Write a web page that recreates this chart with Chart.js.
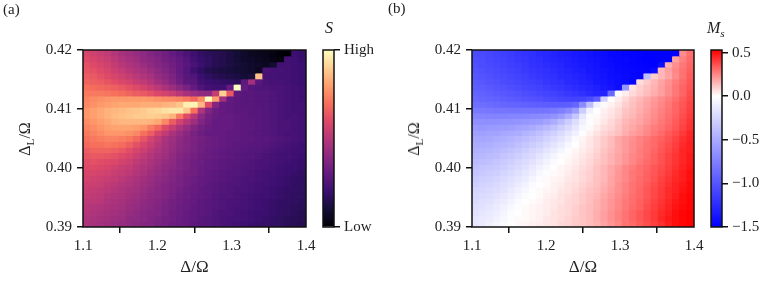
<!DOCTYPE html>
<html>
<head>
<meta charset="utf-8">
<script src="https://cdn.jsdelivr.net/npm/chart.js@4"></script>
<style>
  html, body { margin: 0; padding: 0; background: #fff; }
  #fig { position: relative; width: 765px; height: 288px; overflow: hidden; font-family: "Liberation Serif", serif; color: #222; }
  canvas { position: absolute; top: 0; }
  .lab { position: absolute; white-space: nowrap; line-height: 1; }
  .ylab { transform: translate(-50%, -50%) rotate(-90deg); font-size: 16px; }
  sub { font-size: 70%; line-height: 0; }
</style>
</head>
<body>
<div id="fig">
  <canvas id="heatS" style="left:0" width="322" height="288"></canvas>
  <canvas id="barS" style="left:312px" width="73" height="288"></canvas>
  <canvas id="heatM" style="left:389px" width="322" height="288"></canvas>
  <canvas id="barM" style="left:700px" width="65" height="288"></canvas>
  <div class="lab" style="left:3px;top:2px;font-size:15px">(a)</div>
  <div class="lab" style="left:388px;top:1px;font-size:15px">(b)</div>
  <div class="lab" style="left:325px;top:20px;font-size:16px;font-style:italic">S</div>
  <div class="lab" style="left:707px;top:20px;font-size:16px;font-style:italic">M<sub>s</sub></div>
  <div class="lab ylab" style="left:25px;top:139px">Δ<sub>L</sub>/Ω</div>
  <div class="lab ylab" style="left:414px;top:139px">Δ<sub>L</sub>/Ω</div>
</div>
<script>
// cell centres
const xCenters = [1.1048,1.1145,1.1242,1.1339,1.1435,1.1532,1.1629,1.1726,1.1823,1.1919,1.2016,1.2113,1.2210,1.2306,1.2403,1.2500,1.2597,1.2694,1.2790,1.2887,1.2984,1.3081,1.3177,1.3274,1.3371,1.3468,1.3565,1.3661,1.3758,1.3855,1.3952];
const yCenters = [.4195,.4185,.4176,.4166,.4156,.4147,.4137,.4127,.4118,.4108,.4098,.4089,.4079,.4069,.4060,.4050,.4040,.4031,.4021,.4011,.4002,.3992,.3982,.3973,.3963,.3953,.3944,.3934,.3924,.3915,.3905];
const yHalfCell = 0.000484;

const xTickLabels = ['1.1', '1.2', '1.3', '1.4'];
const yTickLabels = ['0.39', '0.40', '0.41', '0.42'];
const sBarLabels = ['Low', 'High'];

// S, percent of the colour range, top row first
const sRows = [
  [58,56,54,52,49,46,44,42,40,37,35,33,30,27,24,21,18,16,15,14,12,10,8,6,5,4,3,1,0,20,19],
  [60,58,56,54,51,48,46,44,41,39,37,34,32,29,26,22,19,17,15,14,12,10,8,7,6,5,3,2,22,21,19],
  [62,60,58,56,53,50,48,46,43,41,38,36,33,30,27,24,20,17,15,14,12,11,9,8,7,6,9,22,22,21,20],
  [63,62,60,58,55,53,50,48,46,43,40,37,34,30,26,21,17,14,13,12,11,10,9,8,6,24,23,23,22,21,20],
  [65,64,62,60,58,56,53,51,48,46,42,39,36,31,27,25,20,17,15,14,13,12,10,11,87,23,23,22,22,21,20],
  [67,66,65,63,61,59,57,54,52,49,45,42,38,33,28,27,22,20,19,18,17,16,28,45,27,24,23,23,22,21,20],
  [70,69,68,67,66,64,62,60,57,54,51,47,43,39,35,30,25,22,21,21,30,100,30,26,25,25,24,24,23,22,21],
  [72,72,72,71,70,69,67,65,64,62,59,57,54,50,46,43,41,40,53,90,64,29,27,27,26,26,25,24,23,22,21],
  [74,76,77,78,79,79,79,79,79,78,77,76,75,74,72,68,76,100,80,45,30,28,27,27,26,26,25,24,23,22,21],
  [75,77,79,80,81,82,82,82,83,83,83,84,85,88,97,98,85,60,38,30,29,28,27,27,26,26,25,24,23,22,22],
  [78,80,82,84,85,86,87,88,89,91,92,94,95,95,88,70,48,37,32,30,29,28,28,27,27,26,25,24,23,22,22],
  [78,80,82,84,86,87,88,89,89,90,89,88,84,72,60,50,40,34,31,30,30,29,28,27,27,26,25,24,23,23,22],
  [76,78,80,82,84,85,85,85,85,84,82,75,65,57,50,44,37,33,30,30,30,29,28,28,27,26,25,24,24,23,22],
  [74,76,78,80,81,81,81,80,78,73,68,60,54,48,43,38,34,31,30,30,30,29,28,28,27,26,25,24,24,23,22],
  [72,74,76,78,78,78,77,75,70,65,58,52,47,43,39,35,32,30,30,30,29,29,28,27,27,26,25,24,23,23,22],
  [70,72,73,74,74,73,71,68,63,57,52,47,44,41,38,36,34,32,31,30,29,29,28,28,27,27,26,25,24,23,22],
  [68,70,70,71,70,69,66,62,58,54,50,46,43,40,38,35,33,32,31,30,29,28,28,27,27,26,25,24,23,22,21],
  [65,67,67,67,66,64,61,58,55,51,48,45,42,39,37,35,33,31,30,29,28,28,27,26,26,25,24,23,22,21,21],
  [63,64,64,63,62,60,58,55,52,49,46,44,41,38,36,34,32,31,30,29,28,27,26,26,25,24,23,22,22,21,20],
  [61,62,61,60,59,57,55,52,50,47,45,42,40,37,35,33,32,30,29,28,27,27,26,25,24,24,23,22,21,20,19],
  [60,60,59,58,56,54,53,50,48,46,43,41,39,37,35,33,31,30,29,28,27,26,25,25,24,23,22,21,20,20,19],
  [58,58,57,56,54,53,51,49,47,44,42,40,38,36,34,33,31,29,28,27,26,26,25,24,23,22,22,21,20,19,18],
  [57,56,55,54,53,51,49,47,45,43,41,39,37,35,33,32,30,29,28,27,26,25,24,24,23,22,21,20,19,18,18],
  [55,55,54,52,51,49,48,46,44,42,40,38,36,35,33,31,30,28,27,26,25,25,24,23,22,22,21,20,19,18,17],
  [54,53,52,51,49,48,46,45,43,41,39,38,36,34,32,31,29,28,27,26,25,24,24,23,22,21,20,19,18,18,17],
  [53,52,51,49,48,47,45,44,42,40,39,37,35,33,32,30,29,28,26,25,25,24,23,22,21,21,20,19,18,17,17],
  [51,51,50,48,47,46,44,43,41,39,38,36,34,33,31,30,28,27,26,25,24,24,23,22,21,20,19,18,18,17,16],
  [50,49,48,47,46,45,43,42,40,39,37,35,34,32,31,29,28,27,26,25,24,23,23,22,21,20,19,18,17,16,16],
  [49,48,47,46,45,44,42,41,39,38,37,35,33,32,30,29,28,27,25,24,24,23,22,21,20,20,19,18,17,16,15],
  [48,47,46,45,44,43,41,40,39,37,36,34,33,31,30,29,27,26,25,24,23,23,22,21,20,19,18,17,16,15,15],
  [48,46,45,44,43,42,41,39,38,37,35,34,32,31,30,28,27,26,25,24,23,22,21,20,19,19,18,17,16,15,14]
];

// M_s in hundredths, top row first
const mRows = [
  [-105,-107,-109,-111,-113,-115,-118,-120,-122,-125,-127,-129,-131,-133,-135,-137,-139,-141,-143,-145,-146,-147,-148,-149,-150,-150,-150,-150,-150,24,30],
  [-104,-106,-108,-110,-112,-114,-117,-119,-121,-123,-126,-128,-130,-132,-134,-136,-138,-140,-142,-144,-145,-146,-147,-149,-150,-150,-150,-150,20,26,31],
  [-103,-105,-107,-109,-111,-113,-115,-117,-120,-122,-124,-126,-128,-131,-133,-135,-137,-139,-141,-143,-145,-146,-147,-148,-149,-150,-142,17,23,28,32],
  [-101,-103,-105,-107,-109,-111,-113,-116,-118,-120,-122,-124,-127,-129,-131,-133,-136,-138,-140,-142,-144,-145,-146,-147,-148,-144,15,20,25,29,33],
  [-99,-101,-103,-105,-107,-109,-111,-113,-116,-118,-120,-122,-125,-127,-129,-132,-134,-137,-139,-141,-143,-144,-146,-147,-38,11,15,19,24,29,34],
  [-97,-99,-101,-103,-105,-107,-109,-111,-113,-115,-118,-120,-122,-125,-127,-130,-132,-135,-137,-140,-142,-144,-146,7,11,15,19,23,27,31,35],
  [-95,-96,-98,-100,-102,-104,-106,-108,-110,-112,-114,-117,-119,-121,-124,-127,-129,-132,-135,-138,-142,-62,6,10,13,16,20,24,28,32,36],
  [-92,-93,-95,-97,-99,-100,-102,-104,-106,-108,-110,-112,-114,-117,-119,-122,-125,-128,-130,-88,-1,4,8,11,14,17,20,24,28,32,37],
  [-89,-90,-92,-93,-95,-97,-98,-100,-102,-103,-105,-107,-109,-110,-111,-110,-105,-95,-28,0,4,8,12,15,18,21,24,27,30,34,38],
  [-85,-86,-87,-88,-90,-91,-92,-93,-94,-95,-96,-96,-96,-95,-90,-68,-38,-8,1,3,6,10,13,16,19,22,25,28,32,35,39],
  [-78,-79,-80,-81,-81,-82,-82,-82,-82,-82,-81,-79,-76,-70,-58,-30,-8,0,3,5,8,12,14,17,20,23,26,29,32,36,40],
  [-72,-72,-73,-73,-73,-72,-72,-71,-70,-69,-67,-64,-58,-48,-34,-14,-2,1,4,6,9,13,15,18,21,24,27,30,33,37,41],
  [-66,-66,-66,-66,-65,-64,-63,-62,-60,-58,-54,-48,-40,-30,-20,-9,-1,2,5,8,11,15,17,19,22,25,28,31,34,38,42],
  [-60,-61,-60,-59,-58,-57,-55,-53,-50,-46,-41,-36,-29,-22,-14,-5,1,4,7,9,12,16,18,21,24,27,29,32,35,39,43],
  [-56,-56,-55,-54,-52,-50,-48,-45,-41,-37,-32,-27,-21,-15,-8,-1,3,6,9,11,13,17,20,22,25,28,31,34,37,41,45],
  [-52,-52,-51,-49,-47,-45,-42,-39,-35,-31,-26,-21,-16,-10,-3,2,5,8,11,14,18,21,23,26,28,31,33,36,39,43,46],
  [-49,-48,-47,-45,-43,-41,-37,-34,-30,-26,-21,-16,-11,-5,0,3,5,8,11,14,18,21,24,26,29,31,34,37,40,44,47],
  [-46,-45,-44,-41,-39,-36,-33,-29,-25,-21,-16,-11,-6,-1,2,4,6,9,12,15,18,21,24,27,29,32,35,38,41,45,47],
  [-43,-42,-40,-38,-35,-32,-29,-25,-21,-16,-11,-6,-2,1,3,5,7,10,13,16,19,22,25,27,30,33,36,39,42,45,48],
  [-40,-39,-37,-34,-31,-28,-25,-21,-17,-12,-7,-3,0,2,4,6,8,11,13,16,19,22,25,28,31,33,36,39,42,45,48],
  [-37,-35,-33,-31,-28,-25,-22,-18,-13,-8,-4,0,2,3,5,7,9,12,15,18,21,25,27,30,32,35,37,40,43,46,49],
  [-34,-32,-30,-28,-25,-22,-18,-14,-10,-5,-1,1,2,4,6,8,10,12,15,18,22,25,28,30,33,35,38,41,44,47,50],
  [-31,-29,-27,-25,-22,-19,-15,-11,-6,-2,1,2,3,5,6,8,10,13,15,19,22,25,28,31,33,36,39,42,45,47,50],
  [-28,-26,-25,-22,-19,-16,-12,-8,-3,0,1,3,4,6,7,9,11,13,16,19,23,26,29,31,34,37,40,43,46,48,51],
  [-25,-24,-22,-20,-17,-13,-9,-5,-1,1,2,3,5,6,8,10,12,14,17,20,23,26,29,32,35,38,41,44,46,49,51],
  [-23,-21,-20,-17,-14,-10,-6,-2,0,1,3,4,6,7,9,11,13,15,18,21,24,27,30,32,35,38,41,44,47,50,52],
  [-21,-19,-17,-14,-11,-7,-3,0,1,2,4,5,6,8,9,11,13,16,19,22,25,28,30,33,36,39,42,45,48,50,52],
  [-19,-17,-15,-12,-8,-4,-1,1,2,3,4,5,7,8,10,12,14,16,19,22,25,28,31,33,37,40,43,46,49,51,52],
  [-17,-15,-13,-10,-6,-2,0,1,2,3,4,6,7,8,10,12,14,17,20,23,26,29,32,35,38,41,44,47,50,52,53],
  [-15,-13,-11,-8,-4,-1,1,1,2,3,5,6,7,9,11,12,14,17,20,23,26,29,32,35,38,41,45,48,50,52,53],
  [-14,-12,-9,-6,-3,0,1,2,3,4,5,6,8,9,11,12,14,16,19,22,25,29,31,34,37,40,43,47,50,52,53]
];

const magmaStops = ['#000004','#140e36','#3b0f70','#641a80','#8c2981','#b73779','#de4968','#f7705c','#fe9f6d','#fecf92','#fcfdbf'];
const inkColor = '#222';
const serif = '"Liberation Serif", serif';

function hexRgb(h) {
  return [1, 3, 5].map(i => parseInt(h.slice(i, i + 2), 16));
}

function magma(pct) {
  const t = Math.min(Math.max(pct / 100, 0), 1) * (magmaStops.length - 1);
  const i = Math.min(Math.floor(t), magmaStops.length - 2);
  const a = hexRgb(magmaStops[i]), b = hexRgb(magmaStops[i + 1]);
  const c = a.map((v, k) => Math.round(v + (b[k] - v) * (t - i)));
  return `rgb(${c[0]},${c[1]},${c[2]})`;
}

function bwr(hundredths) {
  const v = hundredths / 100;
  if (v < 0) {
    const g = Math.round(255 * (1 + Math.max(v, -1.5) / 1.5));
    return `rgb(${g},${g},255)`;
  }
  const g = Math.round(255 * (1 - Math.min(v, 0.53) / 0.53));
  return `rgb(255,${g},${g})`;
}

// one dataset per row, each cell a floating bar
function rowDatasets(rows, colorOf) {
  return rows.map((row, r) => ({
    data: row.map((_, c) => ({ x: xCenters[c], y: [yCenters[r] - yHalfCell, yCenters[r] + yHalfCell] })),
    backgroundColor: row.map(colorOf),
    grouped: false,
    barPercentage: 1,
    categoryPercentage: 1,
    borderWidth: 0,
    inflateAmount: 0.5
  }));
}

const frame = {
  id: 'frame',
  afterDraw(chart) {
    const { ctx, chartArea: a } = chart;
    ctx.save();
    ctx.strokeStyle = '#111';
    ctx.lineWidth = 1.5;
    ctx.strokeRect(a.left, a.top, a.right - a.left, a.bottom - a.top);
    ctx.restore();
  }
};

const tickGrid = { display: true, drawOnChartArea: false, drawTicks: true, tickLength: 6, color: '#111', lineWidth: 1.5 };
const hideExtras = { legend: { display: false }, tooltip: { enabled: false } };

function heatmap(id, rows, colorOf, paddingRight) {
  new Chart(document.getElementById(id), {
    type: 'bar',
    data: { datasets: rowDatasets(rows, colorOf) },
    plugins: [frame],
    options: {
      responsive: false,
      animation: false,
      events: [],
      layout: { padding: { top: 50, right: paddingRight } },
      plugins: hideExtras,
      scales: {
        x: {
          type: 'linear',
          min: 1.1,
          max: 1.4,
          offset: false,
          grid: tickGrid,
          border: { display: false },
          ticks: {
            stepSize: 0.1,
            padding: 4,
            maxRotation: 0,
            color: inkColor,
            font: { family: serif, size: 15 },
            callback: (v, i) => xTickLabels[i]
          },
          title: { display: true, text: 'Δ/Ω', color: inkColor, font: { family: serif, size: 17 }, padding: { top: 0, bottom: 10 } },
          afterFit: s => { s.height = 61; s.paddingLeft = 0; s.paddingRight = 0; }
        },
        y: {
          type: 'linear',
          min: 0.39,
          max: 0.42,
          grid: tickGrid,
          border: { display: false },
          ticks: {
            stepSize: 0.01,
            padding: 5,
            color: inkColor,
            font: { family: serif, size: 15 },
            callback: (v, i) => yTickLabels[i]
          },
          afterFit: s => { s.width = 83; }
        }
      }
    }
  });
}

function colorBar(id, range, stops, tickStep, tickText, paddingLeft, boxWidth) {
  new Chart(document.getElementById(id), {
    type: 'bar',
    data: {
      labels: [''],
      datasets: [{
        data: [range],
        barPercentage: 1,
        categoryPercentage: 1,
        borderWidth: 0,
        backgroundColor: ctx => {
          const a = ctx.chart.chartArea;
          if (!a) return 'transparent';
          const g = ctx.chart.ctx.createLinearGradient(0, a.bottom, 0, a.top);
          stops.forEach(([at, color]) => g.addColorStop(at, color));
          return g;
        }
      }]
    },
    plugins: [frame],
    options: {
      responsive: false,
      animation: false,
      events: [],
      layout: { padding: { top: 50, left: paddingLeft, bottom: 61 } },
      plugins: hideExtras,
      scales: {
        x: { display: false },
        y: {
          position: 'right',
          min: range[0],
          max: range[1],
          grid: tickGrid,
          border: { display: false },
          ticks: {
            stepSize: tickStep,
            includeBounds: false,
            padding: 4,
            color: inkColor,
            font: { family: serif, size: 15 },
            callback: tickText
          },
          afterFit: s => { s.width = boxWidth; }
        }
      }
    }
  });
}

heatmap('heatS', sRows, magma, 16);
heatmap('heatM', mRows, bwr, 17);

colorBar('barS', [0, 1], magmaStops.map((c, i) => [i / (magmaStops.length - 1), c]), 1, (v, i) => sBarLabels[i], 11, 51);

const mRange = [-1.5, 0.53];
const mZero = (0 - mRange[0]) / (mRange[1] - mRange[0]);
colorBar('barM', mRange, [[0, '#0000ff'], [mZero, '#ffffff'], [1, '#ff0000']], 0.5,
  v => v.toFixed(1).replace('-', '\u2212'), 11, 43);
</script>
</body>
</html>
